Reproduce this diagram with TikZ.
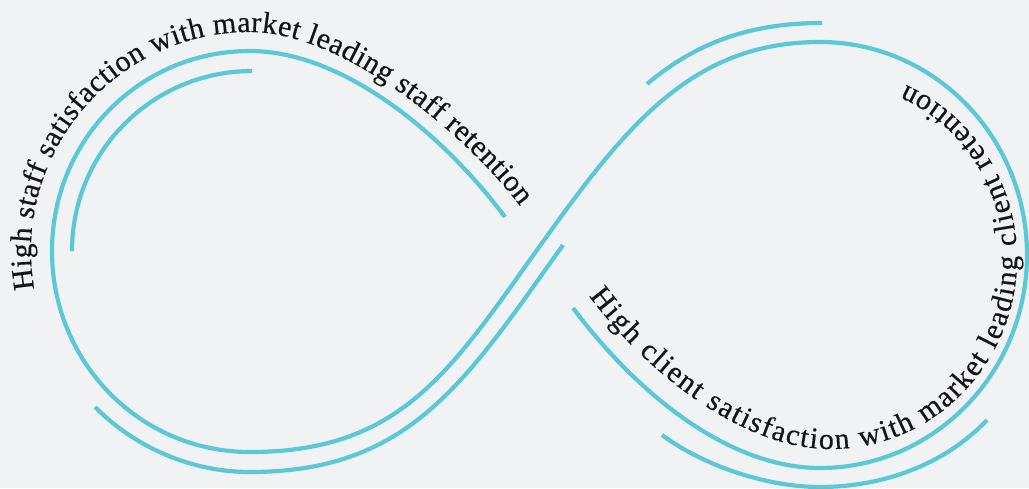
\documentclass[tikz,border=0pt]{standalone}
\usepackage{fontspec}
\setmainfont{Liberation Serif}
\newfontface\loopface{Liberation Serif}[FakeBold=0.4]
\usetikzlibrary{decorations.text}
\definecolor{bgc}{HTML}{F0F2F4}
\definecolor{loopc}{HTML}{5BC8D8}
\definecolor{txtc}{HTML}{141414}
\newcommand\loopfont{\loopface\fontsize{30}{36}\selectfont}
\begin{document}
\begin{tikzpicture}[x=1pt,y=-1pt,
  band/.style={draw=loopc,line width=4.2pt,line cap=butt},
  curvetext/.style={decorate,decoration={text along path,text color=txtc,text align=fit to path,text={|\loopfont|#1}}}]
\fill[bgc] (0,0) rectangle (1029,488);
\useasboundingbox (0,0) rectangle (1029,488);
% main infinity strand
\draw[band] (505,217) .. controls (439,129) and (340,51) .. (250,51)
 .. controls (139.5,51) and (52,140.5) .. (52,251)
 .. controls (52,362) and (139.5,452) .. (250,452)
 .. controls (400,452) and (449.8,372.1) .. (537,250)
 .. controls (624.2,127.9) and (690,42) .. (820,42)
 .. controls (934.3,42) and (1027,137.4) .. (1027,255)
 .. controls (1027,372.6) and (934.3,468) .. (820,468)
 .. controls (730,468) and (639,396) .. (573,308);
% inner left arc
\draw[band] (252,71) .. controls (152.6,71) and (72,151.6) .. (72,251);
% outer bottom-left arc
\draw[band] (95,407) .. controls (135.6,447.8) and (191.7,472) .. (250,472)
 .. controls (410,472) and (465.4,381.8) .. (563,245);
% outer top-right arc
\draw[band] (647,84) .. controls (695,43.6) and (748.5,23) .. (822,23);
% outer bottom-right arc
\draw[band] (662,435) .. controls (707,468) and (770,487) .. (820,487)
 .. controls (881.6,487) and (944.2,465.3) .. (987,420);
% texts
\path[curvetext={High staff satisfaction with market leading staff retention}]
 (34.3,289) .. controls (10.7,154.9) and (113.8,32) .. (250,32)
 .. controls (345,32) and (469,138) .. (520,206);
\path[curvetext={High client satisfaction with market leading client retention}]
 (589,296) .. controls (649,376) and (745,449) .. (830,449)
 .. controls (933.3,449) and (1017,363.9) .. (1017,259)
 .. controls (1017,183.6) and (974,115.3) .. (906,85);
\end{tikzpicture}
\end{document}
